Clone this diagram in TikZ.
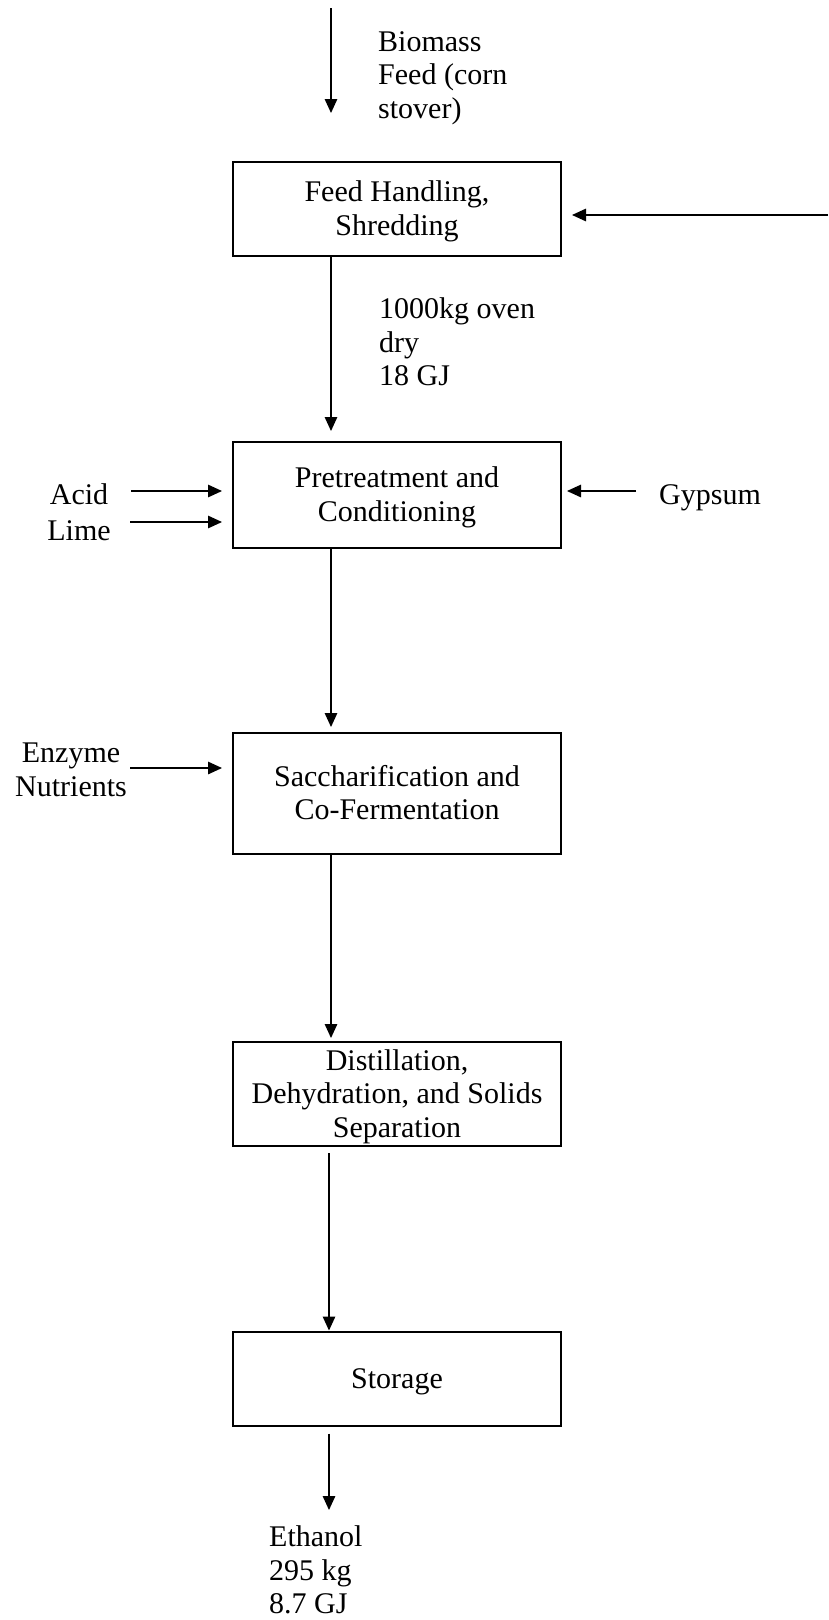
\documentclass[tikz,border=0pt]{standalone}
\usepackage{fontspec}
\setmainfont{Liberation Serif}
\usetikzlibrary{arrows.meta}
% struts that fix the top of the first line and the bottom of the last line
\newcommand\topstrut{\rule{0pt}{27pt}}
\newcommand\botstrut{\rule[-8pt]{0pt}{8pt}}
\tikzset{
  unitbox/.style={draw, line width=2pt, minimum width=328pt, inner sep=0pt, align=center, font=\fontsize{30}{33.5}\selectfont},
  lbl/.style={inner sep=0pt, font=\fontsize{30}{33.5}\selectfont},
  arr/.style={line width=1.35pt, -{Triangle[length=14pt,width=12.5pt]}}
}
\begin{document}
\begin{tikzpicture}[x=1pt, y=-1pt]
\useasboundingbox (0,0) rectangle (828,1620);

% process units
\node[unitbox, minimum height=94pt]  (f1) at (397,209)    {\topstrut Feed Handling,\\Shredding\botstrut};
\node[unitbox, minimum height=106pt] (f2) at (397,495)    {\topstrut Pretreatment and\\Conditioning\botstrut};
\node[unitbox, minimum height=121pt] (f3) at (397,793.5)  {\topstrut Saccharification and\\Co-Fermentation\botstrut};
\node[unitbox, minimum height=104pt] (f4) at (397,1094)   {\topstrut Distillation,\\Dehydration, and Solids\\Separation\botstrut};
\node[unitbox, minimum height=94pt]  (f5) at (397,1378.5) {\topstrut Storage\botstrut};

% stream labels
\node[lbl, anchor=west, align=left] (biomass) at (378,78)   {Biomass\\Feed (corn\\stover)};
\node[lbl, anchor=west, align=left] (dry)     at (379,342)  {1000kg oven\\dry\\18 GJ};
\node[lbl] (acid) at (79,494) {Acid};
\node[lbl] (lime) at (79,531) {Lime};
\node[lbl, anchor=west] (gyp) at (659,498) {Gypsum};
\node[lbl, align=center] (enz) at (71,770) {Enzyme\\Nutrients};
\node[lbl, anchor=west, align=left] (eth) at (269,1570) {Ethanol\\295 kg\\8.7 GJ};

% stream ends and main line positions
\coordinate (ax) at (331,0);
\coordinate (bx) at (329,0);
\coordinate (feedtop) at (331,8);
\coordinate (feedtip) at (331,113);
\coordinate (recyc) at (828,215);
\coordinate (acidS) at (131,491);
\coordinate (limeS) at (130,522);
\coordinate (gypS) at (636,491);
\coordinate (enzS) at (130,768);
\coordinate (ethtip) at (329,1510);

% feed streams
\draw[arr] (feedtop) -- (feedtip);
\draw[arr, shorten >=10pt] (recyc) -- (recyc -| f1.east);
\draw[arr, shorten >=10pt] (acidS) -- (acidS -| f2.west);
\draw[arr, shorten >=10pt] (limeS) -- (limeS -| f2.west);
\draw[arr, shorten >=5pt]  (gypS) -- (gypS -| f2.east);
\draw[arr, shorten >=10pt] (enzS) -- (enzS -| f3.west);

% main process line
\draw[arr, shorten >=10pt] (f1.south -| ax) -- (f2.north -| ax);
\draw[arr, shorten >=5pt]  (f2.south -| ax) -- (f3.north -| ax);
\draw[arr, shorten >=3pt]  (f3.south -| ax) -- (f4.north -| ax);
\draw[arr, shorten <=6pt]  (f4.south -| bx) -- (f5.north -| bx);
\draw[arr, shorten <=7pt]  (f5.south -| bx) -- (ethtip);
\end{tikzpicture}
\end{document}
